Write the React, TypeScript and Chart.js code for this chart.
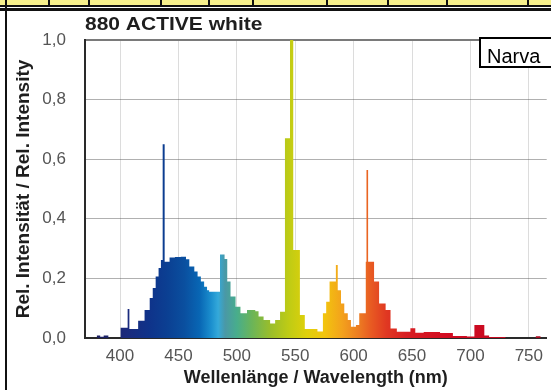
import React, { useEffect, useRef } from "react";
import { Chart, registerables } from "chart.js";

Chart.register(...registerables);

// ---- data ----
const TITLE = "880 ACTIVE white";
const BRAND = "Narva";
const X_TITLE = "Wellenlänge / Wavelength (nm)";
const Y_TITLE = "Rel. Intensität / Rel. Intensity";

// start wavelength of each step (nm); the value holds until the next wavelength
const wavelengths = [
  380, 383, 386, 390, 400.5, 406.5, 408, 415.5, 421, 425.4,
  428, 430.5, 433, 435, 436.5, 438.2, 442.4, 447, 452, 456.5,
  459.3, 463.6, 466.4, 469.2, 472, 474.5, 476.3, 485.6, 489.5, 491.8,
  494.6, 498.9, 503.1, 508.7, 515.8, 518.6, 522.9, 528.5, 532.8, 537,
  541.2, 545.5, 548.3, 554, 558.2, 569, 573.7, 576.5, 579.4, 584.8,
  586.4, 589.2, 592, 595, 597.7, 602, 604.8, 610.4, 611.0, 612.4,
  617.5, 621.8, 627.4, 631.6, 637, 648.6, 652.8, 660, 674, 685,
  697, 703.4, 711.9, 716, 730, 756, 760, 766,
];
const intensity = [
  0.008, 0.004, 0.008, 0, 0.034, 0.097, 0.03, 0.058, 0.094, 0.134,
  0.168, 0.206, 0.235, 0.262, 0.65, 0.256, 0.27, 0.272, 0.273, 0.264,
  0.24, 0.223, 0.206, 0.19, 0.172, 0.16, 0.155, 0.28, 0.265, 0.19,
  0.139, 0.105, 0.083, 0.094, 0.09, 0.072, 0.06, 0.049, 0.06, 0.088,
  0.67, 1.0, 0.295, 0.077, 0.03, 0.022, 0.083, 0.122, 0.19, 0.245,
  0.16, 0.116, 0.083, 0.06, 0.038, 0.044, 0.083, 0.256, 0.564, 0.256,
  0.19, 0.116, 0.094, 0.032, 0.021, 0.033, 0.018, 0.02, 0.017, 0.007,
  0.005, 0.044, 0.008, 0.003, 0, 0.006, 0, 0,
];
const xTicks = [400, 450, 500, 550, 600, 650, 700, 750];
const yTicks = [0, 0.2, 0.4, 0.6, 0.8, 1.0];
const X_MIN = 370;
const X_MAX = 765.3;

// ---- style ----
const spectrumStops: [number, string][] = [
  [380, "#1c1f5e"],
  [405, "#1b2a7c"],
  [425, "#0f338a"],
  [440, "#0b3f92"],
  [455, "#0a4f9f"],
  [468, "#0866b4"],
  [478, "#1b8fce"],
  [484, "#34a9da"],
  [490, "#4a98a6"],
  [500, "#48ad8c"],
  [512, "#68b45c"],
  [528, "#98bd2c"],
  [545, "#c0cc14"],
  [560, "#e0d00a"],
  [575, "#f2c40e"],
  [590, "#f3a21c"],
  [605, "#ec7a22"],
  [615, "#e85a22"],
  [628, "#e03822"],
  [645, "#d81e22"],
  [680, "#d20c22"],
  [720, "#c80a20"],
  [766, "#a00a20"],
];
const FONT = '"Liberation Sans", Arial, Helvetica, sans-serif';
const separators = [5, 48, 88, 160, 208, 252, 326, 387, 446, 527];

const decorPlugin = {
  id: "decor",
  afterDraw(chart: any) {
    const { ctx, chartArea } = chart;
    ctx.save();
    // title (slightly wide, like the reference)
    ctx.translate(chartArea.left, 29.5);
    ctx.scale(1.2, 1);
    ctx.font = `bold 17.5px ${FONT}`;
    ctx.fillStyle = "#1e1e1e";
    ctx.textBaseline = "alphabetic";
    ctx.textAlign = "left";
    ctx.fillText(TITLE, 0, 0);
    ctx.restore();

    ctx.save();
    ctx.fillStyle = "#ffffff";
    ctx.fillRect(479, 37, 90, 31);
    ctx.lineWidth = 2;
    ctx.strokeStyle = "#000";
    ctx.strokeRect(480, 38, 90, 29);
    ctx.fillStyle = "#000";
    ctx.font = `20px ${FONT}`;
    ctx.textBaseline = "alphabetic";
    ctx.fillText(BRAND, 487, 62.5);
    ctx.restore();
  },
};

export default function App() {
  const canvasRef = useRef<HTMLCanvasElement | null>(null);

  useEffect(() => {
    const canvas = canvasRef.current;
    if (!canvas) return;
    const points = wavelengths.map((w, i) => ({ x: w, y: intensity[i] }));

    const chart = new Chart(canvas, {
      type: "line",
      data: {
        datasets: [
          {
            data: points,
            stepped: true,
            fill: "origin",
            borderWidth: 0,
            pointRadius: 0,
            backgroundColor: (c: any) => {
              const ch = c.chart;
              const { chartArea, scales } = ch;
              if (!chartArea) return "#2060a0";
              const x0 = scales.x.getPixelForValue(380);
              const x1 = scales.x.getPixelForValue(766);
              const g = ch.ctx.createLinearGradient(x0, 0, x1, 0);
              spectrumStops.forEach(([w, col]) => {
                g.addColorStop(Math.min(1, Math.max(0, (w - 380) / (766 - 380))), col);
              });
              return g;
            },
          },
        ],
      },
      options: {
        animation: false,
        responsive: false,
        maintainAspectRatio: false,
        layout: { padding: { top: 40, left: 0, right: 0, bottom: 0 } },
        plugins: {
          legend: { display: false },
          title: { display: false },
          tooltip: { enabled: false },
        },
        scales: {
          x: {
            type: "linear",
            min: X_MIN,
            max: X_MAX,
            afterBuildTicks: (s: any) => {
              s.ticks = xTicks.map((v) => ({ value: v }));
            },
            afterFit: (s: any) => {
              s.height = 52;
            },
            grid: { color: "#dcdcdc", lineWidth: 1, drawTicks: false },
            border: { display: true, color: "#2a2a2a", width: 2 },
            ticks: {
              padding: 8,
              color: "#555",
              font: { family: FONT, size: 17 },
              maxRotation: 0,
              autoSkip: false,
              callback: (v: any) => String(v),
            },
            title: {
              display: true,
              text: X_TITLE,
              color: "#1e1e1e",
              font: { family: FONT, size: 18, weight: "bold" },
              padding: { top: 0, bottom: 1 },
            },
          },
          y: {
            type: "linear",
            min: 0,
            max: 1,
            z: 1,
            afterBuildTicks: (s: any) => {
              s.ticks = yTicks.map((v) => ({ value: v }));
            },
            afterFit: (s: any) => {
              s.width = 85;
            },
            grid: {
              drawTicks: false,
              color: (c: any) => (c.tick && c.tick.value === 1 ? "#7a7a7a" : "rgba(80,80,80,0.45)"),
              lineWidth: (c: any) => (c.tick && c.tick.value === 1 ? 2 : 1),
            },
            border: { display: true, color: "#2a2a2a", width: 2 },
            ticks: {
              padding: 19,
              color: "#555",
              font: { family: FONT, size: 17 },
              callback: (v: any) => Number(v).toFixed(1).replace(".", ","),
            },
            title: {
              display: true,
              text: Y_TITLE,
              color: "#1e1e1e",
              font: { family: FONT, size: 19, weight: "bold" },
              padding: { top: 12, bottom: 0 },
            },
          },
        },
      },
      plugins: [decorPlugin],
    });
    return () => chart.destroy();
  }, []);

  return (
    <div
      style={{
        position: "fixed",
        left: 0,
        top: 0,
        width: 551,
        height: 390,
        background: "#fff",
        overflow: "hidden",
      }}
    >
      <div style={{ position: "absolute", left: 0, top: 0, width: 551, height: 5, background: "#f7f08c" }} />
      {separators.map((x) => (
        <div key={x} style={{ position: "absolute", left: x, top: 0, width: 2, height: 5, background: "#111" }} />
      ))}
      <div style={{ position: "absolute", left: 0, top: 5, width: 551, height: 2, background: "#111" }} />
      <div style={{ position: "absolute", left: 0, top: 8, width: 551, height: 3, background: "#111" }} />
      <div style={{ position: "absolute", left: 5, top: 5, width: 2, height: 385, background: "#111" }} />
      <canvas
        ref={canvasRef}
        width={551}
        height={390}
        style={{ position: "absolute", left: 0, top: 0, width: 551, height: 390 }}
      />
    </div>
  );
}
